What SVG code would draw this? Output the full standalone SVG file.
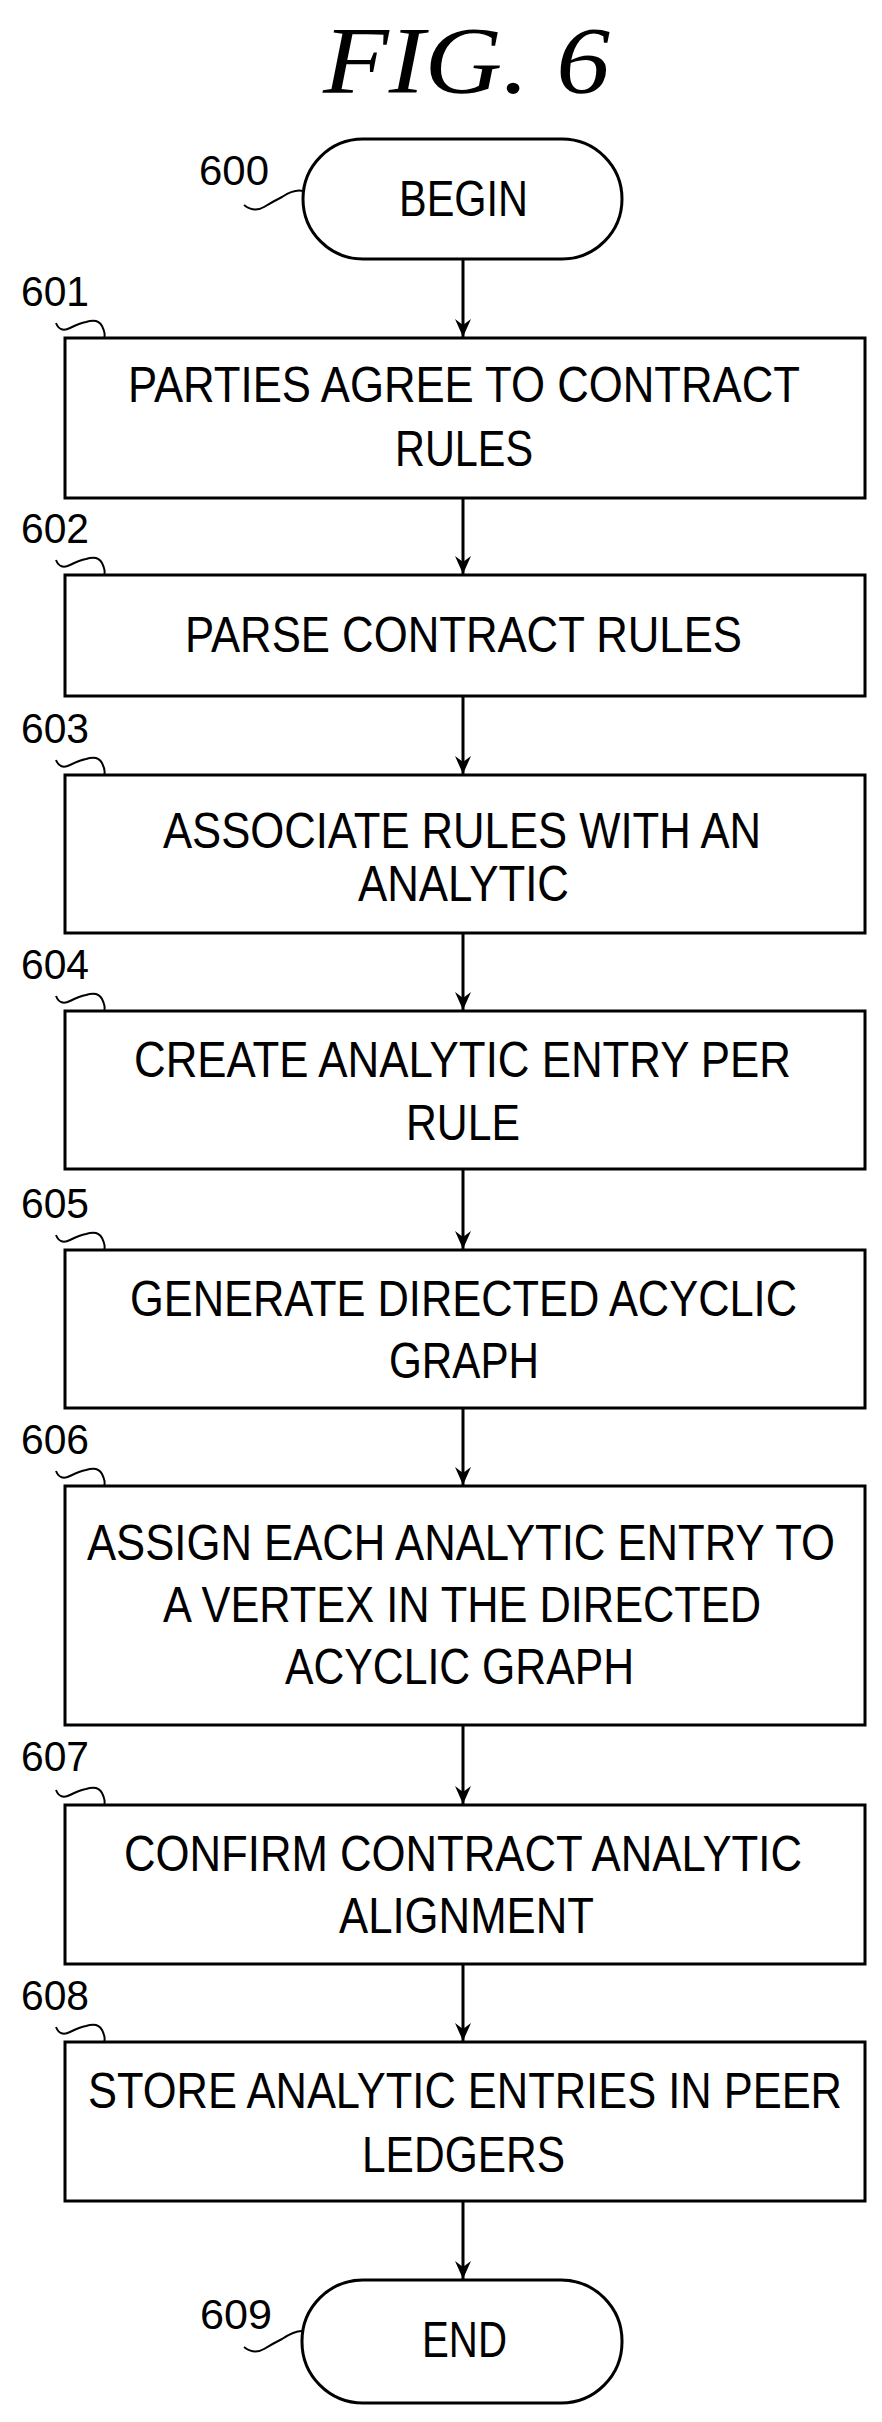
<svg xmlns="http://www.w3.org/2000/svg" width="882" height="2422" viewBox="0 0 882 2422">
<style>
.b{fill:#fff;stroke:#000;stroke-width:3}
.t{font-family:"Liberation Sans",Arial,sans-serif;font-size:50px;fill:#000;text-anchor:start}
.n{font-family:"Liberation Sans",Arial,sans-serif;font-size:42px;fill:#000}
.c{fill:none;stroke:#000;stroke-width:3}
.l{fill:none;stroke:#000;stroke-width:2}
</style>
<defs><marker id="a" markerWidth="18" markerHeight="16" refX="18" refY="8" orient="auto" markerUnits="userSpaceOnUse" viewBox="0 0 18 16"><path d="M0 0L18 8L0 16L6 8Z" fill="#000"/></marker></defs>
<rect width="882" height="2422" fill="#fff"/>
<text x="323" y="93" textLength="287" lengthAdjust="spacingAndGlyphs" style="font-family:'Liberation Serif',serif;font-style:italic;font-size:95px">FIG. 6</text>
<g id="n600"><rect class="b" x="303" y="139" width="319" height="120" rx="60"/><text class="t" x="399" y="216" textLength="129" lengthAdjust="spacingAndGlyphs">BEGIN</text><text class="n" x="199" y="185" textLength="70" lengthAdjust="spacingAndGlyphs">600</text><path class="l" d="M244 205q10 8 20 2t18-10q12-8 21-6"/></g>
<g id="n601"><rect class="b" x="65" y="338" width="800" height="160"/><text class="t" x="128" y="402" textLength="672" lengthAdjust="spacingAndGlyphs">PARTIES AGREE TO CONTRACT</text><text class="t" x="395" y="466" textLength="138" lengthAdjust="spacingAndGlyphs">RULES</text><text class="n" x="21" y="306" textLength="68" lengthAdjust="spacingAndGlyphs">601</text><path class="l" d="M56 323q4 10 14 5t16-6q12-4 16 4t2 12"/></g>
<g id="n602"><rect class="b" x="65" y="575" width="800" height="121"/><text class="t" x="185" y="652" textLength="557" lengthAdjust="spacingAndGlyphs">PARSE CONTRACT RULES</text><text class="n" x="21" y="543" textLength="68" lengthAdjust="spacingAndGlyphs">602</text><path class="l" d="M56 560q4 10 14 5t16-6q12-4 16 4t2 12"/></g>
<g id="n603"><rect class="b" x="65" y="775" width="800" height="158"/><text class="t" x="163" y="848" textLength="598" lengthAdjust="spacingAndGlyphs">ASSOCIATE RULES WITH AN</text><text class="t" x="358" y="901" textLength="211" lengthAdjust="spacingAndGlyphs">ANALYTIC</text><text class="n" x="21" y="743" textLength="68" lengthAdjust="spacingAndGlyphs">603</text><path class="l" d="M56 760q4 10 14 5t16-6q12-4 16 4t2 12"/></g>
<g id="n604"><rect class="b" x="65" y="1011" width="800" height="158"/><text class="t" x="134" y="1077" textLength="657" lengthAdjust="spacingAndGlyphs">CREATE ANALYTIC ENTRY PER</text><text class="t" x="406" y="1140" textLength="114" lengthAdjust="spacingAndGlyphs">RULE</text><text class="n" x="21" y="979" textLength="68" lengthAdjust="spacingAndGlyphs">604</text><path class="l" d="M56 996q4 10 14 5t16-6q12-4 16 4t2 12"/></g>
<g id="n605"><rect class="b" x="65" y="1250" width="800" height="158"/><text class="t" x="130" y="1316" textLength="667" lengthAdjust="spacingAndGlyphs">GENERATE DIRECTED ACYCLIC</text><text class="t" x="389" y="1378" textLength="150" lengthAdjust="spacingAndGlyphs">GRAPH</text><text class="n" x="21" y="1218" textLength="68" lengthAdjust="spacingAndGlyphs">605</text><path class="l" d="M56 1235q4 10 14 5t16-6q12-4 16 4t2 12"/></g>
<g id="n606"><rect class="b" x="65" y="1486" width="800" height="239"/><text class="t" x="87" y="1560" textLength="748" lengthAdjust="spacingAndGlyphs">ASSIGN EACH ANALYTIC ENTRY TO</text><text class="t" x="163" y="1622" textLength="598" lengthAdjust="spacingAndGlyphs">A VERTEX IN THE DIRECTED</text><text class="t" x="285" y="1684" textLength="349" lengthAdjust="spacingAndGlyphs">ACYCLIC GRAPH</text><text class="n" x="21" y="1454" textLength="68" lengthAdjust="spacingAndGlyphs">606</text><path class="l" d="M56 1471q4 10 14 5t16-6q12-4 16 4t2 12"/></g>
<g id="n607"><rect class="b" x="65" y="1805" width="800" height="159"/><text class="t" x="124" y="1871" textLength="678" lengthAdjust="spacingAndGlyphs">CONFIRM CONTRACT ANALYTIC</text><text class="t" x="339" y="1933" textLength="255" lengthAdjust="spacingAndGlyphs">ALIGNMENT</text><text class="n" x="21" y="1771" textLength="68" lengthAdjust="spacingAndGlyphs">607</text><path class="l" d="M56 1790q4 10 14 5t16-6q12-4 16 4t2 12"/></g>
<g id="n608"><rect class="b" x="65" y="2042" width="800" height="159"/><text class="t" x="88" y="2108" textLength="754" lengthAdjust="spacingAndGlyphs">STORE ANALYTIC ENTRIES IN PEER</text><text class="t" x="362" y="2172" textLength="203" lengthAdjust="spacingAndGlyphs">LEDGERS</text><text class="n" x="21" y="2010" textLength="68" lengthAdjust="spacingAndGlyphs">608</text><path class="l" d="M56 2027q4 10 14 5t16-6q12-4 16 4t2 12"/></g>
<g id="n609"><rect class="b" x="302" y="2280" width="320" height="123" rx="61"/><text class="t" x="422" y="2357" textLength="85" lengthAdjust="spacingAndGlyphs">END</text><text class="n" x="200" y="2329" textLength="72" lengthAdjust="spacingAndGlyphs">609</text><path class="l" d="M244 2347q10 8 20 2t18-10q12-8 20-8"/></g>
<g id="connectors">
<path class="c" d="M463 260V337" marker-end="url(#a)"/>
<path class="c" d="M463 499V574" marker-end="url(#a)"/>
<path class="c" d="M463 697V774" marker-end="url(#a)"/>
<path class="c" d="M463 934V1010" marker-end="url(#a)"/>
<path class="c" d="M463 1170V1249" marker-end="url(#a)"/>
<path class="c" d="M463 1409V1485" marker-end="url(#a)"/>
<path class="c" d="M463 1726V1804" marker-end="url(#a)"/>
<path class="c" d="M463 1965V2041" marker-end="url(#a)"/>
<path class="c" d="M463 2202V2279" marker-end="url(#a)"/>
</g>
</svg>
